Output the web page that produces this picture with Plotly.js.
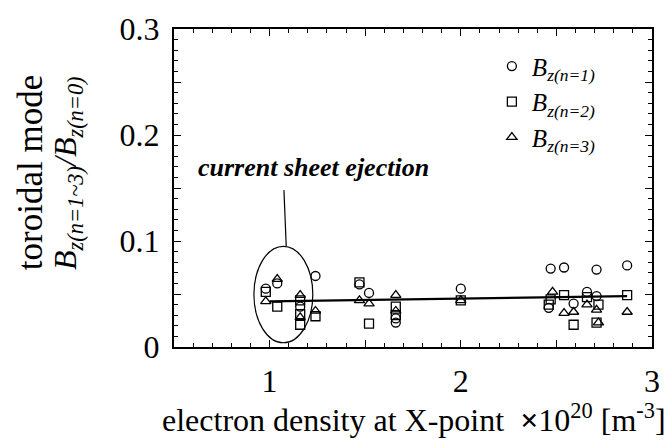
<!DOCTYPE html>
<html>
<head>
<meta charset="utf-8">
<script src="https://cdn.plot.ly/plotly-3.0.1.min.js"></script>
<style>html,body{margin:0;padding:0;background:#fff;}#chart{width:666px;height:441px;}</style>
</head>
<body>
<div id="chart"></div>
<script>
// Series n=1 (circles)
const n1_x = [0.98, 1.04, 1.16, 1.24, 1.47, 1.52, 1.66, 1.66, 2.00, 2.46, 2.47, 2.54, 2.59, 2.66, 2.71, 2.71, 2.87];
const n1_y = [0.055, 0.060, 0.038, 0.067, 0.059, 0.051, 0.027, 0.023, 0.055, 0.037, 0.074, 0.075, 0.041, 0.052, 0.073, 0.048, 0.077];
// Series n=2 (squares)
const n2_x = [0.98, 1.04, 1.16, 1.16, 1.16, 1.24, 1.47, 1.52, 1.66, 1.66, 2.00, 2.46, 2.47, 2.54, 2.59, 2.66, 2.72, 2.71, 2.87];
const n2_y = [0.052, 0.038, 0.044, 0.031, 0.021, 0.029, 0.061, 0.022, 0.038, 0.030, 0.044, 0.040, 0.045, 0.049, 0.021, 0.047, 0.040, 0.023, 0.049];
// Series n=3 (triangles)
const n3_x = [0.98, 1.04, 1.16, 1.16, 1.24, 1.47, 1.52, 1.66, 1.66, 2.00, 2.48, 2.54, 2.59, 2.66, 2.71, 2.72, 2.87];
const n3_y = [0.043, 0.064, 0.049, 0.028, 0.034, 0.044, 0.041, 0.049, 0.034, 0.044, 0.052, 0.032, 0.033, 0.040, 0.035, 0.023, 0.033];
// Trend line
const trend_x = [1.0, 2.87];
const trend_y = [0.043, 0.048];
// Tick labels
const x_tickvals = [0.5, 1, 1.5, 2, 2.5, 3];
const x_ticktext = ['', '1', '', '2', '', '3'];
const y_tickvals = [0, 0.05, 0.1, 0.15, 0.2, 0.25, 0.3];
const y_ticktext = ['0', '', '0.1', '', '0.2', '', '0.3'];
// Names
const series_names = ['<i>B<sub>z(n=1)</sub></i>', '<i>B<sub>z(n=2)</sub></i>', '<i>B<sub>z(n=3)</sub></i>'];

const serif = 'Liberation Serif, Times New Roman, serif';
const mk = (sym) => ({symbol: sym, size: 9, color: '#000', line: {color: '#000', width: 1.3}});

const traces = [
  {x: trend_x, y: trend_y, mode: 'lines', line: {color: '#000', width: 2.2}, showlegend: false, hoverinfo: 'skip'},
  {x: n1_x, y: n1_y, mode: 'markers', name: series_names[0], marker: mk('circle-open')},
  {x: n2_x, y: n2_y, mode: 'markers', name: series_names[1], marker: mk('square-open')},
  {x: n3_x, y: n3_y, mode: 'markers', name: series_names[2], marker: mk('triangle-up-open')}
];

const axisCommon = {
  showline: true, mirror: 'allticks', linecolor: '#000', linewidth: 2,
  ticks: 'inside', ticklen: 7, tickwidth: 1.3, tickcolor: '#000',
  showgrid: false, zeroline: false,
  tickfont: {family: serif, size: 32, color: '#000'}
};

const layout = {
  width: 666, height: 441,
  margin: {l: 174, r: 14, t: 29, b: 94},
  paper_bgcolor: '#ffffff', plot_bgcolor: '#ffffff',
  xaxis: Object.assign({}, axisCommon, {
    range: [0.5, 3], tickmode: 'array', tickvals: x_tickvals, ticktext: x_ticktext,
    ticklabelstandoff: 5,
    minor: {tickmode: 'linear', tick0: 0, dtick: 0.1, ticks: 'inside', ticklen: 4, tickwidth: 1.1, tickcolor: '#000'}
  }),
  yaxis: Object.assign({}, axisCommon, {
    range: [0, 0.3], tickmode: 'array', tickvals: y_tickvals, ticktext: y_ticktext,
    ticklabelstandoff: 6,
    minor: {tickmode: 'linear', tick0: 0, dtick: 0.01, ticks: 'inside', ticklen: 4, tickwidth: 1.1, tickcolor: '#000'}
  }),
  showlegend: true,
  legend: {
    x: 0.665, y: 0.955, xanchor: 'left', yanchor: 'top',
    bgcolor: 'rgba(0,0,0,0)', borderwidth: 0,
    font: {family: serif, size: 25, color: '#000'},
    tracegroupgap: 0
  },
  shapes: [
    {type: 'circle', xref: 'x', yref: 'y', x0: 0.918, x1: 1.226, y0: 0.004, y1: 0.095, line: {color: '#000', width: 1.2}},
    {type: 'line', xref: 'x', yref: 'y', x0: 1.087, y0: 0.095, x1: 1.075, y1: 0.148, line: {color: '#000', width: 1.2}}
  ],
  annotations: [
    {text: '<b><i>current sheet ejection</i></b>', xref: 'x', yref: 'y', x: 1.229, y: 0.1696,
     showarrow: false, font: {family: serif, size: 26, color: '#000'}},
    {text: 'toroidal mode', xref: 'paper', yref: 'paper', x: -0.301, y: 0.547, textangle: -90,
     xanchor: 'center', yanchor: 'middle', showarrow: false, font: {family: serif, size: 35, color: '#000'}},
    {text: '<i>B<sub>z(n=1~3)</sub>/B<sub>z(n=0)</sub></i>', xref: 'paper', yref: 'paper', x: -0.224, y: 0.547, textangle: -90,
     xanchor: 'center', yanchor: 'middle', showarrow: false, font: {family: serif, size: 32, color: '#000'}},
    {text: 'electron density at X-point  <b>×</b>10<sup>20</sup> [m<sup>-3</sup>]', xref: 'paper', yref: 'paper', x: 0.502, y: -0.222,
     xanchor: 'center', yanchor: 'middle', showarrow: false, font: {family: serif, size: 32, color: '#000'}}
  ]
};

Plotly.newPlot('chart', traces, layout, {displayModeBar: false});
</script>
</body>
</html>
